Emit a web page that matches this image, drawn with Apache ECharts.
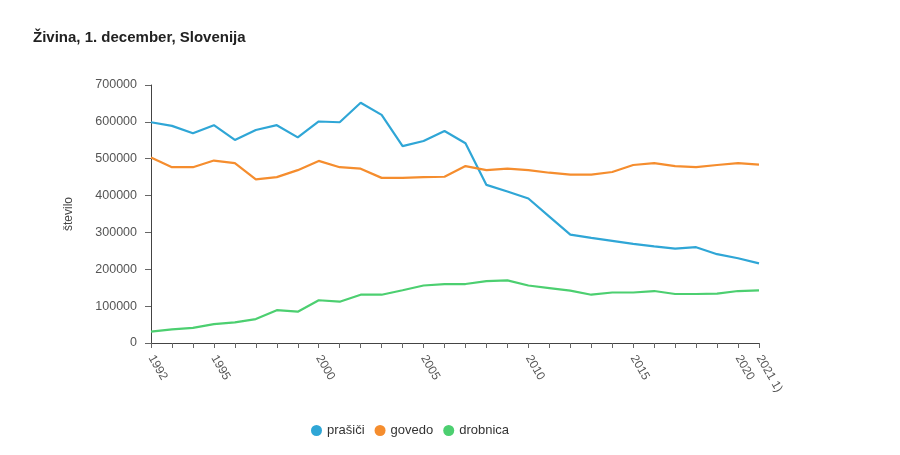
<!DOCTYPE html>
<html>
<head>
<meta charset="utf-8">
<script src="https://cdn.jsdelivr.net/npm/echarts@6/dist/echarts.min.js"></script>
<style>
html,body{margin:0;padding:0;background:#fff;}
#chart{width:900px;height:455px;}
</style>
</head>
<body>
<div id="chart"></div>
<script>
var years = ['1992','1993','1994','1995','1996','1997','1998','1999','2000','2001','2002','2003','2004','2005','2006','2007','2008','2009','2010','2011','2012','2013','2014','2015','2016','2017','2018','2019','2020','2021 1)'];
var shownLabels = ['1992','1995','2000','2005','2010','2015','2020','2021 1)'];
var prasici = [599000,589000,569000,591000,551000,578000,591000,558000,601000,599000,652000,619000,534000,548000,575000,542000,429000,411000,392000,343000,294000,285000,277000,269000,262000,256000,260000,241000,230000,216000];
var govedo = [503000,477000,477000,495000,488000,444000,450000,469000,494000,477000,473000,448000,448000,450000,451000,480000,469000,473000,469000,462000,457000,457000,464000,483000,488000,480000,477000,483000,488000,484000];
var drobnica = [31000,37000,41000,51000,56000,65000,89000,85000,116000,112000,131000,131000,143000,156000,160000,160000,168000,170000,156000,149000,142000,131000,137000,137000,141000,133000,133000,134000,141000,143000];
var yTicks = [0,100000,200000,300000,400000,500000,600000,700000];

var chart = echarts.init(document.getElementById('chart'));
var font = 'Liberation Sans, Arial, sans-serif';
chart.setOption({
  animation:false,
  textStyle:{fontFamily:font},
  title:{
    text:'Živina, 1. december, Slovenija',
    left:28, top:25,
    textStyle:{fontSize:15, fontWeight:'bold', color:'#222', fontFamily:font}
  },
  legend:{
    data:['prašiči','govedo','drobnica'],
    left:306, top:419,
    icon:'circle', itemWidth:11, itemHeight:11, itemGap:10,
    textStyle:{fontSize:13, color:'#333', fontFamily:font}
  },
  grid:{left:151, right:141, top:85, bottom:112},
  xAxis:{
    type:'category',
    data:years,
    boundaryGap:false,
    axisLine:{lineStyle:{color:'#444', width:1}},
    axisTick:{show:true, length:5, interval:0, lineStyle:{color:'#666'}},
    axisLabel:{
      interval:function(i, v){ return shownLabels.indexOf(v) >= 0; },
      rotate:-60, color:'#555', fontSize:12, margin:13,
      formatter:function(v){ return v; }
    },
    splitLine:{show:false}
  },
  yAxis:{
    type:'value',
    min:yTicks[0], max:yTicks[yTicks.length-1], interval:100000,
    name:'število', nameLocation:'middle', nameGap:76,
    nameTextStyle:{color:'#444', fontSize:12, fontFamily:font},
    axisLine:{show:true, lineStyle:{color:'#444', width:1}},
    axisTick:{show:true, length:6, lineStyle:{color:'#666'}},
    axisLabel:{color:'#555', fontSize:12.5, margin:14, formatter:function(v){ return String(v); }},
    splitLine:{show:false}
  },
  series:[
    {name:'prašiči', type:'line', data:prasici, symbol:'none', color:'#2fa6d6', lineStyle:{width:2.2, color:'#2fa6d6'}},
    {name:'govedo', type:'line', data:govedo, symbol:'none', color:'#f58d2e', lineStyle:{width:2.2, color:'#f58d2e'}},
    {name:'drobnica', type:'line', data:drobnica, symbol:'none', color:'#4ccf70', lineStyle:{width:2.2, color:'#4ccf70'}}
  ]
});
</script>
</body>
</html>
